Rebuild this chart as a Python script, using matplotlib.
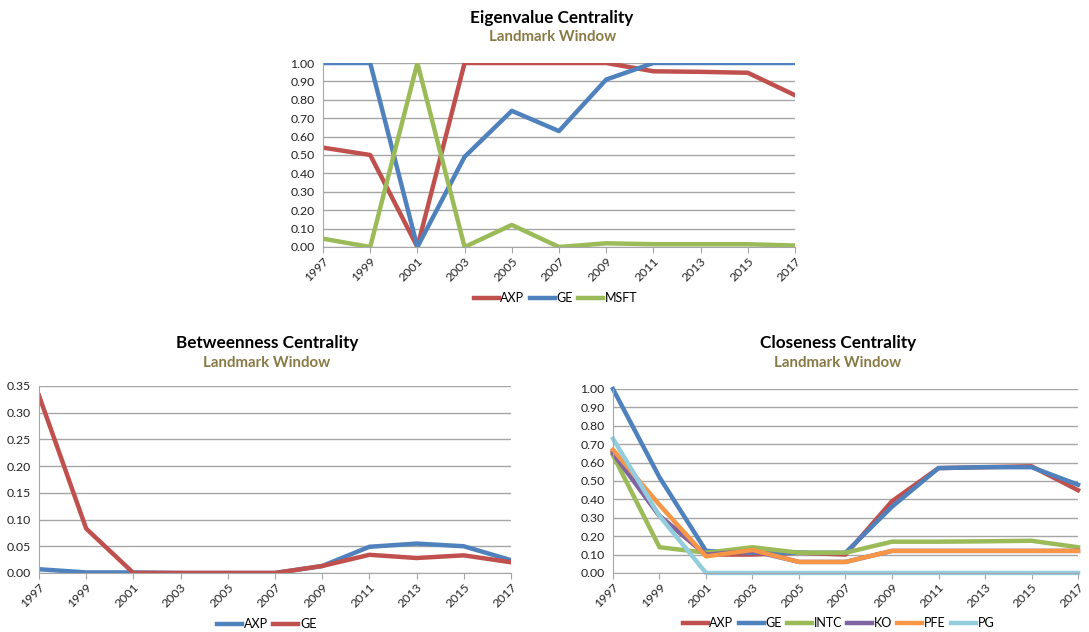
import matplotlib
matplotlib.use("Agg")
import matplotlib.pyplot as plt

plt.rcParams['font.family'] = ['Lato', 'DejaVu Sans']

years = [1997, 1999, 2001, 2003, 2005, 2007, 2009, 2011, 2013, 2015, 2017]

# eigenvalue centrality
eig_axp = [0.54, 0.50, 0.00, 1.00, 1.00, 1.00, 1.00, 0.955, 0.952, 0.947, 0.825]
eig_ge = [1.00, 1.00, 0.00, 0.49, 0.74, 0.63, 0.91, 1.00, 1.00, 1.00, 1.00]
eig_msft = [0.045, 0.00, 1.00, 0.00, 0.12, 0.00, 0.02, 0.015, 0.015, 0.015, 0.008]

# betweenness centrality
btw_axp = [0.007, 0.001, 0.001, 0.0, 0.0, 0.0, 0.013, 0.049, 0.055, 0.050, 0.024]
btw_ge = [0.332, 0.083, 0.0, 0.0, 0.0, 0.0, 0.013, 0.034, 0.028, 0.033, 0.020]

# closeness centrality
cls_axp = [0.66, 0.31, 0.10, 0.10, 0.11, 0.10, 0.39, 0.57, 0.575, 0.58, 0.45]
cls_ge = [1.00, 0.52, 0.12, 0.11, 0.11, 0.11, 0.36, 0.57, 0.575, 0.575, 0.48]
cls_intc = [0.64, 0.14, 0.11, 0.14, 0.11, 0.11, 0.17, 0.17, 0.172, 0.175, 0.14]
cls_ko = [0.65, 0.31, 0.10, 0.12, 0.06, 0.06, 0.12, 0.12, 0.12, 0.12, 0.12]
cls_pfe = [0.67, 0.37, 0.09, 0.125, 0.06, 0.06, 0.12, 0.12, 0.12, 0.12, 0.12]
cls_pg = [0.73, 0.31, 0.00, 0.0, 0.0, 0.0, 0.0, 0.0, 0.0, 0.0, 0.0]

RED = '#C0504D'
BLUE = '#4F81BD'
GREEN = '#9BBB59'
PURPLE = '#8064A2'
ORANGE = '#F79646'
AQUA = '#93CDDD'
SUB = '#877A45'
GRID = '#A6A6A6'

fig = plt.figure(figsize=(10.89, 6.32), dpi=100)


def style_axes(ax, ymax, ystep):
    ax.set_xlim(years[0], years[-1])
    ax.set_ylim(0, ymax)
    n = int(round(ymax / ystep))
    ax.set_yticks([i * ystep for i in range(n + 1)])
    ax.yaxis.set_major_formatter(matplotlib.ticker.FormatStrFormatter('%.2f'))
    ax.set_xticks(years)
    ax.set_xticklabels([str(y) for y in years], rotation=45, ha='right',
                       rotation_mode='anchor')
    ax.grid(axis='y', color=GRID, lw=1)
    ax.set_axisbelow(True)
    for s in ['top', 'right']:
        ax.spines[s].set_visible(False)
    for s in ['left', 'bottom']:
        ax.spines[s].set_color(GRID)
    ax.tick_params(axis='y', length=0, labelsize=8.8, colors='#222222', pad=6)
    ax.tick_params(axis='x', length=4, color=GRID, labelsize=8.8,
                   colors='#222222', pad=2)


def add_titles(cx, y, title):
    fig.text(cx, y, title, ha='center', va='center', fontsize=12.3,
             fontweight='bold', color='black')
    fig.text(cx, y - 0.031, 'Landmark Window', ha='center', va='center',
             fontsize=10.8, fontweight='bold', color=SUB)


def add_legend(ax, cx, y, ncol):
    ax.legend(loc='center', bbox_to_anchor=(cx, y),
              bbox_transform=fig.transFigure, ncol=ncol, frameon=False,
              fontsize=9, handlelength=2.0, handletextpad=0.15,
              columnspacing=0.4)


lw = 3.2

# top chart
ax1 = fig.add_axes([0.2966, 0.6092, 0.4334, 0.2911])
ax1.plot(years, eig_axp, color=RED, lw=lw, label='AXP')
ax1.plot(years, eig_ge, color=BLUE, lw=lw, label='GE')
ax1.plot(years, eig_msft, color=GREEN, lw=lw, label='MSFT')
style_axes(ax1, 1.0, 0.1)
add_titles(0.507, 0.972, 'Eigenvalue Centrality')
add_legend(ax1, 0.51, 0.528, 3)

# bottom left
ax2 = fig.add_axes([0.0358, 0.0934, 0.4334, 0.2959])
ax2.plot(years, btw_axp, color=BLUE, lw=lw, label='AXP')
ax2.plot(years, btw_ge, color=RED, lw=lw, label='GE')
style_axes(ax2, 0.35, 0.05)
add_titles(0.245, 0.457, 'Betweenness Centrality')
add_legend(ax2, 0.245, 0.012, 2)

# bottom right
ax3 = fig.add_axes([0.5629, 0.0934, 0.427, 0.2911])
ax3.plot(years, cls_axp, color=RED, lw=lw, label='AXP')
ax3.plot(years, cls_ge, color=BLUE, lw=lw, label='GE')
ax3.plot(years, cls_intc, color=GREEN, lw=lw, label='INTC')
ax3.plot(years, cls_ko, color=PURPLE, lw=lw, label='KO')
ax3.plot(years, cls_pfe, color=ORANGE, lw=lw, label='PFE')
ax3.plot(years, cls_pg, color=AQUA, lw=lw, label='PG')
style_axes(ax3, 1.0, 0.1)
for line in ax3.get_lines():
    line.set_clip_on(False)
add_titles(0.7695, 0.457, 'Closeness Centrality')
add_legend(ax3, 0.77, 0.014, 6)

fig.savefig('out.png', dpi=100)
